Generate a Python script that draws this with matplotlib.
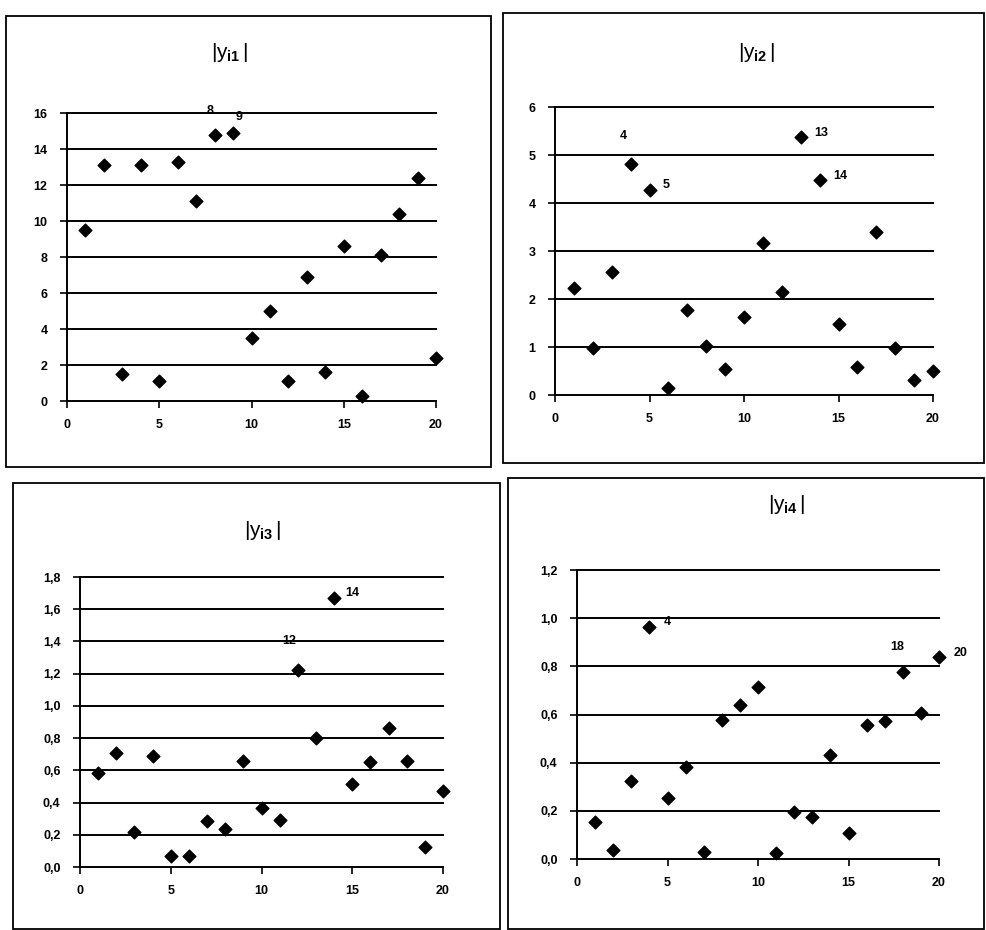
import matplotlib
matplotlib.use("Agg")
import matplotlib.pyplot as plt
from matplotlib.patches import Rectangle

plt.rcParams['font.family'] = ['Liberation Sans', 'DejaVu Sans']
plt.rcParams['mathtext.fontset'] = 'custom'
plt.rcParams['mathtext.rm'] = 'Liberation Sans'
plt.rcParams['mathtext.it'] = 'Liberation Sans'
plt.rcParams['mathtext.bf'] = 'Liberation Sans:bold'

obs = list(range(1, 21))

y1 = [9.5, 13.1, 1.5, 13.1, 1.1, 13.3, 11.1, 14.75, 14.9, 3.5,
      5.0, 1.1, 6.9, 1.6, 8.6, 0.25, 8.1, 10.4, 12.4, 2.4]
y2 = [2.22, 0.97, 2.56, 4.82, 4.27, 0.15, 1.77, 1.02, 0.54, 1.63,
      3.16, 2.15, 5.37, 4.47, 1.48, 0.58, 3.39, 0.97, 0.31, 0.50]
y3 = [0.585, 0.707, 0.22, 0.69, 0.068, 0.068, 0.283, 0.238, 0.66, 0.366,
      0.29, 1.22, 0.80, 1.67, 0.517, 0.65, 0.865, 0.66, 0.124, 0.47]
y4 = [0.152, 0.036, 0.325, 0.965, 0.254, 0.38, 0.03, 0.578, 0.64, 0.715,
      0.025, 0.195, 0.174, 0.43, 0.11, 0.557, 0.572, 0.777, 0.608, 0.84]

titles = [r'$|y_{\mathbf{i1}}\,|$', r'$|y_{\mathbf{i2}}\,|$',
          r'$|y_{\mathbf{i3}}\,|$', r'$|y_{\mathbf{i4}}\,|$']

yticks1 = [0, 2, 4, 6, 8, 10, 12, 14, 16]
yticks2 = [0, 1, 2, 3, 4, 5, 6]
yticks3 = [0.0, 0.2, 0.4, 0.6, 0.8, 1.0, 1.2, 1.4, 1.6, 1.8]
yticks4 = [0.0, 0.2, 0.4, 0.6, 0.8, 1.0, 1.2]
ylabels1 = [str(v) for v in yticks1]
ylabels2 = [str(v) for v in yticks2]
ylabels3 = ['0,0', '0,2', '0,4', '0,6', '0,8', '1,0', '1,2', '1,4', '1,6', '1,8']
ylabels4 = ['0,0', '0,2', '0,4', '0,6', '0,8', '1,0', '1,2']
xticks = [0, 5, 10, 15, 20]

# annotations: (text, x, y)
ann1 = [('8', 7.75, 16.1), ('9', 9.3, 15.8)]
ann2 = [('4', 3.6, 5.4), ('5', 5.9, 4.37), ('13', 14.1, 5.46), ('14', 15.1, 4.56)]
ann3 = [('12', 11.5, 1.40), ('14', 15.0, 1.70)]
ann4 = [('4', 5.0, 0.984), ('18', 17.7, 0.88), ('20', 21.2, 0.855)]

W, H = 986, 930
fig = plt.figure(figsize=(W / 100, H / 100), dpi=100)

# pixel geometry: axes (x0, x1, ybottom, ytop), frames (x0, y0, x1, y1), title pos
axes_px = [(67, 436, 401, 113), (555, 933, 395, 107),
           (80, 443, 867, 577), (577, 939, 859, 570)]
frames_px = [(6, 16, 491, 467), (503, 13, 984, 463),
             (13, 483, 500, 929), (508, 478, 984, 929)]
title_px = [(230, 53), (757, 52), (263, 531), (787, 505)]

data = [y1, y2, y3, y4]
yts = [yticks1, yticks2, yticks3, yticks4]
yls = [ylabels1, ylabels2, ylabels3, ylabels4]
anns = [ann1, ann2, ann3, ann4]

for i in range(4):
    x0, x1, yb, yt = axes_px[i]
    ax = fig.add_axes([x0 / W, 1 - yb / H, (x1 - x0) / W, (yb - yt) / H])
    ax.set_xlim(0, 20)
    ax.set_ylim(yts[i][0], yts[i][-1])
    for v in yts[i][1:]:
        ax.axhline(v, color='black', lw=1.4, clip_on=False)
    ax.scatter(obs, data[i], marker='D', s=42, color='black', zorder=5, clip_on=False)
    for s in ['top', 'right']:
        ax.spines[s].set_visible(False)
    for s in ['left', 'bottom']:
        ax.spines[s].set_linewidth(1.4)
    ax.set_xticks(xticks)
    ax.set_yticks(yts[i])
    ax.set_yticklabels(yls[i])
    ax.tick_params(axis='both', direction='out', length=5, width=1.2,
                   labelsize=9)
    ax.tick_params(axis='y', pad=9)
    ax.tick_params(axis='x', pad=8)
    for lab in ax.get_xticklabels() + ax.get_yticklabels():
        lab.set_fontweight('bold')
    for t, ax_x, ax_y in anns[i]:
        ax.text(ax_x, ax_y, t, fontsize=9, fontweight='bold', ha='center',
                va='center', clip_on=False)
    ax.set_facecolor('none')

    fx0, fy0, fx1, fy1 = frames_px[i]
    fig.add_artist(Rectangle((fx0 / W, 1 - fy1 / H), (fx1 - fx0) / W, (fy1 - fy0) / H,
                             transform=fig.transFigure, fill=False,
                             edgecolor='black', lw=1.3))
    tx, ty = title_px[i]
    fig.text(tx / W, 1 - ty / H, titles[i], fontsize=15, ha='center', va='center')

fig.savefig('out.png', dpi=100)
